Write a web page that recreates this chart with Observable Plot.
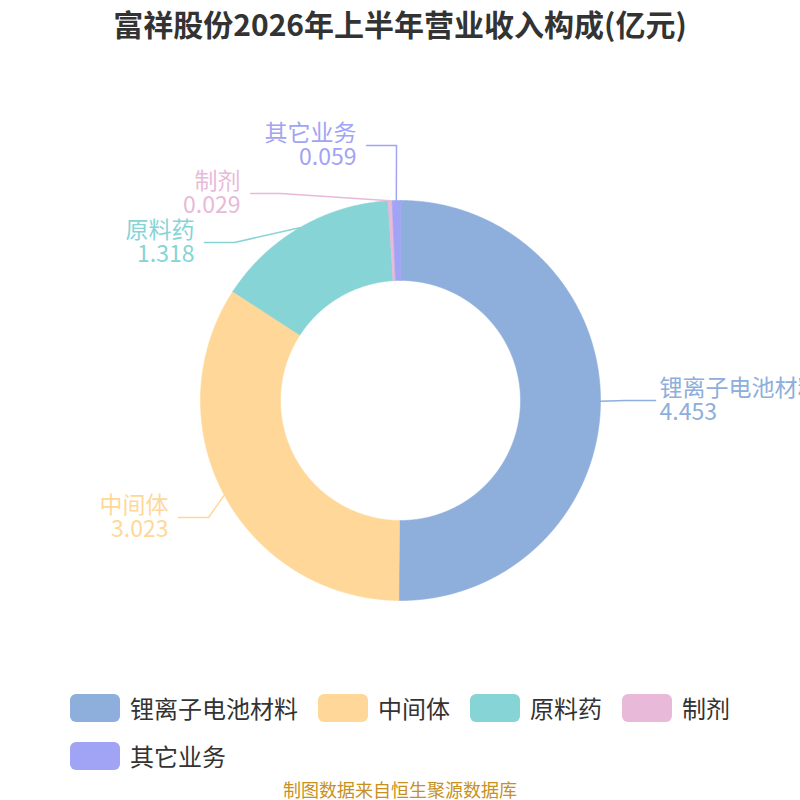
<!DOCTYPE html>
<html>
<head>
<meta charset="utf-8">
<script src="https://cdn.jsdelivr.net/npm/d3@7"></script>
<script src="https://cdn.jsdelivr.net/npm/@observablehq/plot@0.6"></script>
<style>
  html, body { margin: 0; padding: 0; background: #fff; width: 800px; height: 800px; overflow: hidden; }
  body { position: relative; font-family: "Noto Sans CJK SC", "Noto Sans", sans-serif; }
  #title { position: absolute; left: 0; top: 0; width: 800px; height: 46px; line-height: 46px; text-align: center; font-size: 30px; font-weight: bold; color: #333; }
  #chart { position: absolute; left: 0; top: 50px; }
  #legend { position: absolute; left: 70px; top: 694px; width: 700px; display: flex; flex-wrap: wrap; row-gap: 20px; column-gap: 20px; }
  .item { display: flex; align-items: center; height: 28px; }
  .sw { width: 50px; height: 28px; border-radius: 6px; margin-right: 10px; }
  .lab { font-size: 24px; color: #333; line-height: 28px; white-space: nowrap; }
  #caption { position: absolute; left: 0; top: 779px; width: 800px; text-align: center; font-size: 18px; line-height: 20px; color: #c8901e; }
</style>
</head>
<body>
<div id="title">富祥股份2026年上半年营业收入构成(亿元)</div>
<div id="chart"></div>
<div id="legend"></div>
<div id="caption">制图数据来自恒生聚源数据库</div>
<script>
// ---- data ----
const names = ["锂离子电池材料", "中间体", "原料药", "制剂", "其它业务"];
const values = [4.453, 3.023, 1.318, 0.029, 0.059];
const colors = ["#8eaedb", "#ffd899", "#86d4d6", "#e8b9d9", "#a1a4f4"];

// ---- label layout (page pixels) ----
const labelY = [400, 517, 242, 193, 145];
const labelEndX = [655, 178, 204, 250, 366];
const labelSide = ["start", "end", "end", "end", "end"];

// ---- geometry ----
const R = 200, R0 = 120;
const toUx = px => px - 400;
const toUy = py => 400 - py;
const arcs = d3.pie().sort(null).value(d => d)(values);

const poly = [];
arcs.forEach((a, i) => {
  const n = Math.max(2, Math.ceil((a.endAngle - a.startAngle) / 0.005));
  const pts = [];
  for (let k = 0; k <= n; k++) {
    const t = a.startAngle + (a.endAngle - a.startAngle) * k / n;
    pts.push([R * Math.sin(t), R * Math.cos(t)]);
  }
  for (let k = n; k >= 0; k--) {
    const t = a.startAngle + (a.endAngle - a.startAngle) * k / n;
    pts.push([R0 * Math.sin(t), R0 * Math.cos(t)]);
  }
  pts.push(pts[0]);
  pts.forEach(([x, y]) => poly.push({name: names[i], x, y}));
});

const leaders = [];
const labels = [];
arcs.forEach((a, i) => {
  const m = (a.startAngle + a.endAngle) / 2;
  const sx = R * Math.sin(m), sy = R * Math.cos(m);
  const dir = labelSide[i] === "start" ? 1 : -1;
  const ex = toUx(labelEndX[i]), ey = toUy(labelY[i]);
  const bx = ex - dir * 30;
  leaders.push({name: names[i], x: sx, y: sy});
  leaders.push({name: names[i], x: bx, y: ey});
  leaders.push({name: names[i], x: ex, y: ey});
  labels.push({
    name: names[i],
    text: names[i] + "\n" + values[i].toFixed(3),
    x: ex + (dir > 0 ? 4 : -10),
    y: ey,
    side: labelSide[i]
  });
});

const chart = Plot.plot({
  width: 800,
  height: 620,
  margin: 0,
  style: {background: "transparent", overflow: "visible", fontFamily: "\"Noto Sans CJK SC\", sans-serif"},
  x: {domain: [-400, 400], axis: null},
  y: {domain: [-270, 350], axis: null},
  color: {domain: names, range: colors},
  marks: [
    Plot.line(poly, {x: "x", y: "y", z: "name", fill: "name", stroke: "name", strokeWidth: 0.6, curve: "linear"}),
    Plot.line(leaders, {x: "x", y: "y", z: "name", stroke: "name", strokeWidth: 1.5, curve: "linear"}),
    Plot.text(labels.filter(d => d.side === "start"), {x: "x", y: "y", text: "text", fill: "name", textAnchor: "start", lineAnchor: "middle", lineHeight: 1.02, fontSize: 23}),
    Plot.text(labels.filter(d => d.side === "end"), {x: "x", y: "y", text: "text", fill: "name", textAnchor: "end", lineAnchor: "middle", lineHeight: 1.02, fontSize: 23})
  ]
});
document.getElementById("chart").appendChild(chart);

// ---- legend ----
const legend = document.getElementById("legend");
names.forEach((n, i) => {
  const item = document.createElement("div");
  item.className = "item";
  const sw = document.createElement("div");
  sw.className = "sw";
  sw.style.background = colors[i];
  const lab = document.createElement("span");
  lab.className = "lab";
  lab.textContent = n;
  item.appendChild(sw);
  item.appendChild(lab);
  legend.appendChild(item);
});
</script>
</body>
</html>
